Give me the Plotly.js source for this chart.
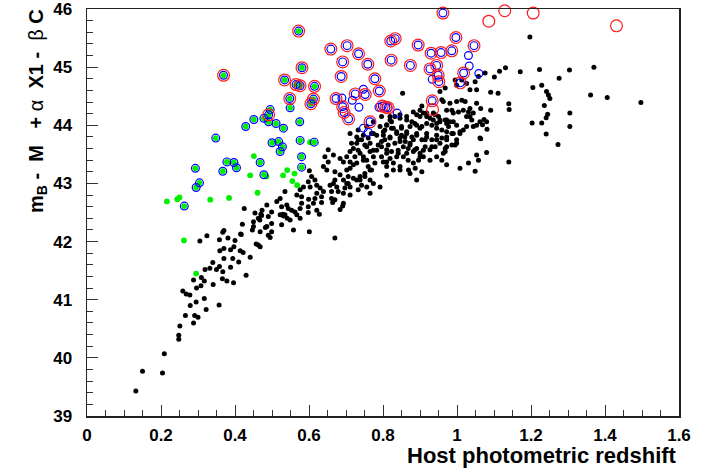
<!DOCTYPE html>
<html>
<head>
<meta charset="utf-8">
<script src="https://cdn.plot.ly/plotly-3.0.1.min.js"></script>
<style>html,body{margin:0;padding:0;background:#fff;}#chart{width:717px;height:470px;}</style>
</head>
<body>
<div id="chart"></div>
<script>
// Black points: [redshift, distance modulus]
const blackPoints = [
[0.132,39.43],[0.150,39.77],[0.204,39.74],[0.209,40.07],[0.248,40.39],[0.248,40.32],[0.251,40.55],[0.266,40.73],[0.288,40.60],[0.291,40.73],[0.300,40.70],[0.279,40.90],[0.295,40.96],[0.322,40.83],[0.317,41.02],[0.357,40.91],[0.259,41.15],[0.268,41.10],[0.278,41.08],[0.296,41.20],[0.308,41.24],[0.317,41.32],[0.288,41.34],[0.341,41.26],[0.378,41.32],[0.396,41.29],[0.309,41.38],[0.319,41.52],[0.332,41.54],[0.340,41.64],[0.350,41.52],[0.358,41.57],[0.367,41.48],[0.366,41.36],[0.388,41.56],[0.370,41.71],[0.394,41.71],[0.410,41.65],[0.430,41.42],[0.359,41.84],[0.370,41.88],[0.388,41.86],[0.397,41.91],[0.414,41.84],[0.422,41.81],[0.358,42.03],[0.381,42.06],[0.400,42.02],[0.305,42.01],[0.324,42.10],[0.367,42.16],[0.370,42.19],[0.417,42.12],[0.420,42.30],[0.425,42.57],[0.415,42.13],
[0.441,41.73],[0.457,41.96],[0.463,41.94],[0.468,41.91],[0.454,42.49],[0.470,42.47],[0.473,42.54],[0.463,42.40],[0.450,42.34],[0.450,42.26],[0.468,42.17],[0.490,42.11],[0.495,42.07],[0.499,42.17],[0.486,42.26],[0.499,42.31],[0.490,42.43],[0.499,42.51],[0.486,42.63],[0.513,42.69],[0.526,42.60],[0.529,42.47],[0.522,42.46],[0.535,42.46],[0.541,42.40],[0.544,42.57],[0.553,42.54],[0.549,42.37],[0.562,42.51],[0.567,42.46],[0.576,42.57],[0.576,42.40],[0.580,42.66],[0.598,42.60],[0.598,42.50],[0.612,42.66],[0.621,42.54],[0.628,42.47],[0.634,42.67],[0.664,42.67],[0.684,42.55],[0.691,42.61],[0.558,42.20],[0.526,42.29],[0.601,42.17],[0.670,42.06],
[0.482,42.24],[0.467,42.37],[0.472,42.45],[0.531,42.44],[0.540,42.63],[0.447,42.20],[0.693,42.66],[0.670,42.72],[0.711,42.80],[0.616,42.74],
[0.535,42.86],[0.580,42.77],[0.567,42.80],[0.576,42.89],[0.585,42.94],[0.598,43.03],[0.603,42.94],[0.607,43.12],[0.616,43.06],[0.621,42.97],[0.630,42.92],[0.639,42.86],[0.634,42.77],[0.621,42.83],[0.661,42.74],[0.661,42.86],[0.657,42.97],[0.666,43.00],[0.670,43.06],[0.675,42.94],[0.679,42.86],[0.693,42.83],[0.697,42.92],[0.693,43.06],[0.702,43.00],[0.711,42.94],[0.706,43.12],[0.702,43.23],[0.711,43.26],[0.684,43.15],[0.670,43.20],[0.648,43.23],[0.639,43.29],[0.652,43.37],[0.643,43.46],[0.666,43.49],[0.652,43.58],[0.684,43.43],[0.702,43.46],[0.693,43.37],[0.711,43.37],[0.720,43.32],[0.724,43.46],[0.711,43.55],[0.720,43.60],[0.733,43.57],[0.738,43.52],[0.729,43.69],[0.733,43.75],[0.747,43.83],[0.760,43.78],[0.751,43.66],[0.747,43.46],[0.756,43.40],[0.760,43.29],[0.751,43.17],[0.738,43.12],[0.729,43.06],[0.742,42.97],[0.756,42.94],[0.765,43.06],[0.774,43.00],[0.769,43.23],[0.778,43.35],[0.774,43.46],[0.783,43.57],[0.787,43.66],[0.765,43.55],[0.769,43.86],[0.783,43.83],[0.522,42.74],[0.601,43.22],[0.599,42.73],
[0.733,42.89],[0.765,42.83],[0.792,42.94],[0.711,43.86],[0.733,43.92],[0.756,43.98],[0.774,43.86],[0.774,44.06],[0.729,43.80],[0.715,43.69],[0.742,43.75],[0.756,43.63],[0.774,43.57],[0.765,43.69],[0.729,43.35],[0.747,43.40],[0.765,43.23],[0.751,43.12],[0.738,43.06],[0.720,43.09],[0.706,43.00],
[0.810,43.14],[0.828,43.23],[0.846,43.23],[0.869,43.23],[0.887,43.26],[0.905,43.20],[0.891,43.06],[0.873,43.17],
[0.882,44.23],[0.891,44.18],[0.900,44.15],[0.909,44.21],[0.918,44.15],[0.927,44.12],[0.936,44.09],[0.941,44.18],[0.950,44.15],[0.954,44.06],[0.968,44.09],[0.972,44.03],[0.981,44.06],[0.977,43.98],[0.959,43.92],[0.945,43.95],[0.932,44.00],[0.918,44.03],[0.905,43.98],[0.891,44.00],[0.878,44.06],[0.864,44.09],[0.846,44.12],[0.832,44.15],[0.819,44.09],[0.810,44.00],[0.823,43.95],[0.837,43.89],[0.850,43.95],[0.864,43.86],[0.878,43.80],[0.891,43.83],[0.905,43.75],[0.918,43.80],[0.932,43.75],[0.945,43.83],[0.959,43.78],[0.972,43.80],[0.986,43.86],[0.968,43.60],[0.954,43.69],[0.941,43.63],[0.927,43.58],[0.914,43.63],[0.900,43.52],[0.886,43.58],[0.873,43.66],[0.860,43.72],[0.846,43.78],[0.832,43.69],[0.819,43.80],[0.805,43.75],[0.796,43.63],[0.810,43.58],[0.823,43.55],[0.841,43.52],[0.855,43.46],[0.868,43.40],[0.882,43.35],[0.896,43.40],[0.909,43.46],[0.927,43.40],[0.945,43.46],[0.959,43.40],[0.972,43.32],[0.963,43.52],[0.796,43.46],[0.810,43.37],[0.828,43.35],[0.846,43.29],[0.801,43.89],[0.796,44.15],
[0.853,44.55],[0.905,44.33],[0.954,44.58],[0.968,44.64],[0.959,44.44],[0.981,44.38],[0.986,44.26],
[0.796,43.72],[0.801,43.83],[0.805,43.92],[0.792,43.98],[0.810,44.01],[0.823,44.06],[0.828,43.95],[0.837,43.86],[0.819,43.78],[0.814,43.66],[0.810,43.52],[0.819,43.43],[0.801,43.37],[0.810,43.29],[0.837,43.46],[0.841,43.57],[0.855,43.63],[0.846,43.72],[0.850,43.83],[0.864,43.89],[0.873,43.98],[0.886,44.03],[0.900,43.95],[0.891,43.86],[0.882,43.75],[0.873,43.69],[0.864,43.52],[0.882,43.55],[0.891,43.60],[0.900,43.46],[0.909,43.57],[0.914,43.75],[0.918,43.86],[0.850,43.98],[0.859,43.80],[0.868,43.60],
[1.004,44.23],[1.017,44.26],[1.031,44.23],[1.035,44.29],[1.013,44.43],[1.022,44.41],[1.053,44.38],[1.053,44.61],[0.995,44.78],[1.013,44.78],[0.999,44.69],[1.049,44.75],[1.058,44.84],[1.053,44.00],[1.044,43.98],[1.040,44.09],[1.035,44.15],[1.008,43.89],[1.017,43.92],[1.026,43.98],[0.999,44.00],[0.990,44.06],[0.986,43.66],[0.995,43.66],[0.999,43.75],[0.972,43.63],[0.968,43.55],[1.053,43.49],[1.058,43.40],[1.031,43.35],[1.008,43.26],[1.049,43.21],[1.062,43.78],[1.062,44.06],
[0.999,44.41],[0.963,44.41],[1.026,44.15],[1.044,44.21],[0.972,44.26],[0.990,44.21],[1.026,44.72],[1.035,44.61],[0.972,44.09],[0.954,44.09],[0.945,44.03],[0.936,44.21],[0.918,44.21],[0.900,44.26],[0.864,44.15],[0.846,44.18],[0.819,44.15],[0.990,43.86],[0.972,43.89],[0.972,43.75],[0.945,43.75],[0.932,43.63],[1.008,43.86],[0.999,43.69],
[1.076,44.90],[1.101,44.83],[1.115,44.93],[1.131,44.99],[1.171,44.92],[1.223,44.96],[1.276,44.81],[1.304,44.95],[1.370,45.00],[1.229,44.69],[1.205,44.65],[1.242,44.58],[1.247,44.52],[1.251,44.46],[1.236,44.34],[1.245,44.19],[1.241,44.13],[1.229,44.04],[1.203,44.04],[1.241,43.85],[1.273,43.67],[1.305,44.21],[1.305,43.98],[1.361,44.52],[1.091,44.57],[1.111,44.55],[1.140,44.37],[1.141,44.27],[1.064,44.29],[1.091,44.26],[1.073,44.10],[1.080,44.06],[1.069,44.01],[1.081,43.93],[1.064,43.77],[1.080,43.53],[1.140,43.37],[1.197,45.52],[1.406,44.48],[1.497,44.39]
];

// Green points (all), including those that also carry blue / red circles
const greenPoints = [
[0.572,45.62],[0.369,44.86],[0.581,44.99],[0.534,44.78],[0.565,44.70],[0.576,44.68],[0.615,44.67],[0.548,44.46],[0.612,44.45],[0.605,44.37],[0.491,44.18],
[0.495,44.27],[0.549,44.30],[0.478,44.12],[0.491,44.06],[0.451,44.10],[0.429,43.98],[0.511,44.03],[0.531,43.95],[0.575,44.06],[0.348,43.78],[0.500,43.70],[0.518,43.72],[0.528,43.63],[0.522,43.55],[0.576,43.74],[0.614,43.71],[0.580,43.46],[0.293,43.26],[0.378,43.37],[0.397,43.36],[0.404,43.27],[0.367,43.21],[0.468,43.36],[0.478,43.15],[0.580,43.28],[0.304,43.01],[0.295,42.93],[0.263,42.61],
[0.603,43.71],[0.451,43.47],[0.485,43.12],[0.441,43.14],[0.530,43.14],[0.541,43.23],[0.561,43.17],[0.555,43.04],[0.568,42.97],[0.461,42.84],[0.384,42.75],[0.333,42.72],[0.250,42.76],[0.244,42.73],[0.216,42.69],[0.262,42.02],[0.295,41.45]
];

// Blue open circles
const bluePoints = [
[0.572,45.62],[0.369,44.86],[0.581,44.99],[0.534,44.78],[0.565,44.70],[0.576,44.68],[0.615,44.67],[0.548,44.46],[0.612,44.45],[0.605,44.37],[0.491,44.18],
[0.495,44.27],[0.549,44.30],[0.478,44.12],[0.491,44.06],[0.451,44.10],[0.429,43.98],[0.511,44.03],[0.531,43.95],[0.575,44.06],[0.348,43.78],[0.500,43.70],[0.518,43.72],[0.528,43.63],[0.522,43.55],[0.576,43.74],[0.614,43.71],[0.580,43.46],[0.293,43.26],[0.378,43.37],[0.397,43.36],[0.404,43.27],[0.367,43.21],[0.468,43.36],[0.478,43.15],[0.580,43.28],[0.304,43.01],[0.295,42.93],[0.263,42.61],
[0.962,45.93],[0.659,45.31],[0.703,45.37],[0.734,45.23],[0.691,45.09],[0.759,45.05],[0.687,44.84],[0.821,45.45],[0.833,45.49],[0.822,45.12],[0.895,45.38],[0.874,45.03],[0.930,45.24],[0.957,45.25],[0.986,45.28],[0.997,45.51],[1.046,45.37],[1.018,44.90],[0.927,44.97],[0.945,45.03],[0.949,44.86],[0.951,44.75],[1.009,44.73],[0.778,44.80],[0.790,44.59],[0.725,44.54],[0.752,44.53],[0.673,44.46],[0.691,44.32],[0.695,44.22],[0.707,44.11],[0.765,44.06],[0.798,44.33],[0.808,44.31],[0.814,44.30],[0.933,44.42],
[1.031,45.20],[1.033,45.02],[1.059,44.89],[0.933,44.79],[0.747,44.62],[0.689,44.47],[0.717,44.43],[0.735,44.31],[0.747,43.95],[0.760,43.88],[0.789,44.31],[0.838,44.21]
];

// Red open circles
const redPoints = [
[0.572,45.62],[0.369,44.86],[0.581,44.99],[0.534,44.78],[0.565,44.70],[0.576,44.68],[0.615,44.67],[0.548,44.46],[0.612,44.45],[0.605,44.37],[0.491,44.18],
[0.962,45.93],[0.659,45.31],[0.703,45.37],[0.734,45.23],[0.691,45.09],[0.759,45.05],[0.687,44.84],[0.821,45.45],[0.833,45.49],[0.822,45.12],[0.895,45.38],[0.874,45.03],[0.930,45.24],[0.957,45.25],[0.986,45.28],[0.997,45.51],[1.046,45.37],[1.018,44.90],[0.927,44.97],[0.945,45.03],[0.949,44.86],[0.951,44.75],[1.009,44.73],[0.778,44.80],[0.790,44.59],[0.725,44.54],[0.752,44.53],[0.673,44.46],[0.691,44.32],[0.695,44.22],[0.707,44.11],[0.765,44.06],[0.798,44.33],[0.808,44.31],[0.814,44.30],[0.933,44.42],
[1.086,45.79],[1.129,45.97],[1.206,45.93],[1.431,45.71],[0.934,44.27]
];

const xTitle = 'Host photometric redshift';
const NB = '\u00a0';
const yTitle = 'm<sub>B</sub> - ' + NB + 'M ' + NB + NB + '+ ' +
  '<span style="font-weight:normal">α</span> ' + NB + 'X1 - ' + NB +
  '<span style="font-weight:normal">β</span> C';

const col = (arr, i) => arr.map(p => p[i]);

const traces = [
  {x: col(blackPoints,0), y: col(blackPoints,1), type:'scatter', mode:'markers', cliponaxis:false,
   marker:{color:'#000000', size:5}, hoverinfo:'x+y'},
  {x: col(greenPoints,0), y: col(greenPoints,1), type:'scatter', mode:'markers', cliponaxis:false,
   marker:{color:'#00f000', size:5.8}},
  {x: col(bluePoints,0), y: col(bluePoints,1), type:'scatter', mode:'markers', cliponaxis:false,
   marker:{symbol:'circle-open', color:'#0000ff', size:7.8, line:{width:1.2, color:'#0000ff'}}},
  {x: col(redPoints,0), y: col(redPoints,1), type:'scatter', mode:'markers', cliponaxis:false,
   marker:{symbol:'circle-open', color:'#ff1a1a', size:11.8, line:{width:1.2, color:'#ff1a1a'}}}
];

const fam = '"Liberation Sans", Arial, sans-serif';
const tickFont = {family:fam, size:17, weight:'bold', color:'#000'};
const axisCommon = {
  showgrid:false, zeroline:false, showline:true, mirror:true, linecolor:'#222', linewidth:1.5,
  ticks:'inside', ticklen:11, tickwidth:1, tickcolor:'#333', tickfont:tickFont, fixedrange:true,
  ticklabeloverflow:'allow'
};

const layout = {
  width:717, height:470,
  margin:{l:87, r:38, t:9, b:54},
  paper_bgcolor:'#fff', plot_bgcolor:'#fff',
  showlegend:false,
  xaxis: Object.assign({}, axisCommon, {
    range:[0,1.6], tick0:0, dtick:0.2, ticklabelstandoff:3,
    minor:{dtick:0.05, ticks:'inside', ticklen:6, tickcolor:'#333', tickwidth:1}
  }),
  yaxis: Object.assign({}, axisCommon, {
    range:[39,46], tick0:39, dtick:1, ticklabelstandoff:10,
    minor:{dtick:0.2, ticks:'inside', ticklen:6, tickcolor:'#333', tickwidth:1}
  }),
  annotations:[
    {text:xTitle, xref:'paper', yref:'paper', x:1, y:0, xanchor:'right', yanchor:'top', yshift:-25,
     showarrow:false, font:{family:fam, size:22, weight:'bold', color:'#000'}},
    {text:yTitle, xref:'paper', yref:'paper', x:0, y:1, xanchor:'center', yanchor:'top', xshift:-50, yshift:2,
     textangle:-90, showarrow:false, font:{family:fam, size:20, weight:'bold', color:'#000'}}
  ]
};

Plotly.newPlot('chart', traces, layout, {staticPlot:true, displayModeBar:false});
</script>
</body>
</html>
